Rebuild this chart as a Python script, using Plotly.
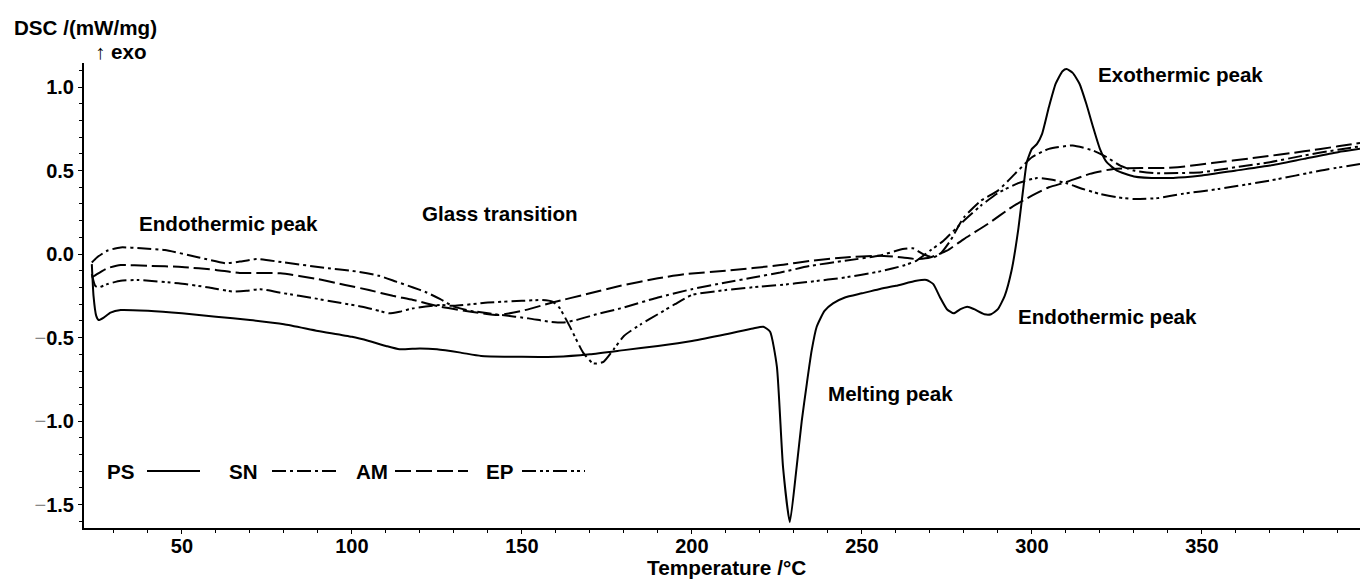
import plotly.graph_objects as go

# ---------------- data ----------------
ps_T = [23.5, 24.0, 24.8, 25.5, 27, 29, 32, 40, 50, 60, 70, 80, 90, 100, 105, 110, 114, 120, 125, 132, 138,
        150, 160, 170, 180, 190, 200, 210, 218, 221, 223, 225, 226.8, 228.8, 230.8, 232.3, 233.8, 235.2,
        236.7, 239, 241.5, 245, 250, 255, 260, 266, 269, 271, 273, 275, 277, 279, 281, 283, 286, 288, 290,
        292, 294, 296, 297.5, 298.5, 300, 301.5, 303, 305, 307, 309, 310.2, 312, 314, 316, 318, 320, 322,
        325, 330, 338, 345, 350, 360, 370, 380, 390, 396.5]
ps_V = [-0.06, -0.25, -0.37, -0.395, -0.38, -0.35, -0.335, -0.34, -0.355, -0.375, -0.395, -0.42, -0.46,
        -0.495, -0.52, -0.55, -0.57, -0.565, -0.57, -0.59, -0.61, -0.615, -0.615, -0.60, -0.575, -0.55,
        -0.52, -0.48, -0.445, -0.435, -0.465, -0.675, -1.275, -1.605, -1.275, -1.0, -0.775, -0.58, -0.435,
        -0.34, -0.295, -0.26, -0.235, -0.21, -0.19, -0.16, -0.155, -0.18, -0.26, -0.33, -0.355, -0.33,
        -0.315, -0.33, -0.36, -0.36, -0.33, -0.25, -0.1, 0.15, 0.4, 0.55, 0.63, 0.66, 0.72, 0.88, 1.02,
        1.095, 1.108, 1.085, 1.02, 0.9, 0.76, 0.63, 0.55, 0.5, 0.465, 0.455, 0.46, 0.47, 0.5, 0.53, 0.57,
        0.61, 0.63]

sn_T = [23.5, 25, 28, 32, 38, 45, 55, 63, 67, 72, 80, 93, 100, 108, 113, 118, 122, 126, 130, 135, 144,
        152, 158, 162, 166, 172, 179, 190, 200, 210, 218, 226, 235, 245, 255, 262, 265, 268, 271, 273, 276,
        280, 285, 290, 295, 300, 305, 312, 318, 322, 326, 330, 336, 343, 350, 360, 370, 380, 390, 396.5]
sn_V = [-0.05, -0.02, 0.02, 0.04, 0.035, 0.024, -0.02, -0.055, -0.045, -0.03, -0.05, -0.085, -0.1, -0.13,
        -0.165, -0.2, -0.23, -0.27, -0.315, -0.34, -0.365, -0.385, -0.405, -0.41, -0.395, -0.36, -0.325,
        -0.26, -0.21, -0.17, -0.14, -0.11, -0.07, -0.04, -0.01, 0.03, 0.035, 0.0, -0.02, 0.0, 0.08, 0.22,
        0.32, 0.38, 0.48, 0.58, 0.63, 0.65, 0.62, 0.58, 0.53, 0.50, 0.485, 0.485, 0.49, 0.52, 0.55, 0.59,
        0.625, 0.645]

am_T = [23.5, 25, 28, 32, 40, 50, 60, 67, 79, 90, 98, 105, 112, 118, 126, 135, 143, 150, 159, 170, 179,
        190, 198, 210, 226, 235, 245, 255, 262, 266, 270, 275, 280, 287, 294, 300, 305, 310, 317, 324, 332,
        339, 345, 353, 365, 380, 390, 396.5]
am_V = [-0.14, -0.12, -0.085, -0.066, -0.07, -0.077, -0.095, -0.113, -0.115, -0.15, -0.185, -0.215, -0.25,
        -0.275, -0.315, -0.345, -0.365, -0.34, -0.29, -0.235, -0.19, -0.145, -0.12, -0.1, -0.066, -0.04,
        -0.02, -0.01, -0.02, -0.03, -0.02, 0.02, 0.09, 0.18, 0.28, 0.35, 0.40, 0.43, 0.48, 0.51, 0.515,
        0.515, 0.525, 0.545, 0.575, 0.615, 0.645, 0.665]

ep_T = [23.5, 24.5, 25.5, 28, 32, 37, 49, 58, 65, 69, 73, 80, 89, 96, 103, 108, 111, 114, 118, 126, 130,
        140, 150, 156, 159, 161, 164, 168, 171, 174, 177, 180, 185, 190, 195, 200, 210, 220, 226, 235, 245,
        255, 262, 266, 270, 274, 280, 285, 290, 296, 301.5, 306, 310, 315, 320, 325, 330, 337, 344, 355,
        370, 385, 396.5]
ep_V = [-0.12, -0.19, -0.2, -0.18, -0.16, -0.155, -0.175, -0.2, -0.225, -0.22, -0.21, -0.235, -0.265,
        -0.29, -0.315, -0.34, -0.355, -0.345, -0.325, -0.305, -0.31, -0.29, -0.28, -0.275, -0.285, -0.32,
        -0.43, -0.59, -0.655, -0.645, -0.57, -0.49, -0.42, -0.36, -0.3, -0.245, -0.215, -0.195, -0.185,
        -0.165, -0.14, -0.105, -0.07, -0.04, 0.02, 0.08, 0.2, 0.29, 0.365, 0.425, 0.455, 0.445, 0.425,
        0.39, 0.36, 0.34, 0.33, 0.335, 0.36, 0.39, 0.44, 0.5, 0.54]

series_names = ["PS", "SN", "AM", "EP"]
x_tick_vals = [50, 100, 150, 200, 250, 300, 350]
y_tick_vals = [-1.5, -1.0, -0.5, 0.0, 0.5, 1.0]
y_tick_text = ["<span style='color:#888;font-weight:normal'>−</span>1.5",
               "<span style='color:#888;font-weight:normal'>−</span>1.0",
               "<span style='color:#888;font-weight:normal'>−</span>0.5",
               "0.0", "0.5", "1.0"]

# ---------------- styles ----------------
FONT = "Liberation Sans, Arial, sans-serif"
DASH_SN = "14px,4px,3px,4px"
DASH_AM = "16px,5px"
DASH_EP = "14px,4px,3px,3px,3px,4px"
styles = {"PS": "solid", "SN": DASH_SN, "AM": DASH_AM, "EP": DASH_EP}
data = {"PS": (ps_T, ps_V), "SN": (sn_T, sn_V), "AM": (am_T, am_V), "EP": (ep_T, ep_V)}

fig = go.Figure()
for name in series_names:
    T, V = data[name]
    fig.add_trace(go.Scatter(x=T, y=V, mode="lines", name=name, line_shape="spline",
                             line=dict(color="black", width=2, dash=styles[name], smoothing=0.5),
                             showlegend=False))

W, H = 1360, 579
ml, mr, mt, mb = 84, 0, 63, 51
pw, ph = W - ml - mr, H - mt - mb


def px_to_paper(px, py):
    return (px - ml) / pw, (H - mb - py) / ph


annotations = []


def add_text(text, px, py, xanchor="center", size=20.6):
    xp, yp = px_to_paper(px, py)
    annotations.append(dict(text=text, x=xp, y=yp, xref="paper", yref="paper", xanchor=xanchor,
                            yanchor="middle", showarrow=False,
                            font=dict(family=FONT, size=size, color="black")))


add_text("<b>DSC /(mW/mg)</b>", 12, 27, "left")
add_text("<b>↑ exo</b>", 93, 52, "left")
add_text("<b>Endothermic peak</b>", 228, 224)
add_text("<b>Glass transition</b>", 500, 213)
add_text("<b>Melting peak</b>", 890, 393)
add_text("<b>Exothermic peak</b>", 1180, 74)
add_text("<b>Endothermic peak</b>", 1107, 316)
add_text("<b>Temperature /°C</b>", 726, 567, size=20.8)

# legend drawn as text + line samples
legend_items = [("PS", 120, 147, 200), ("SN", 243, 272, 340), ("AM", 372, 395, 468), ("EP", 500, 522, 585)]
shapes = []
leg_y = 471
for name, tx, x0, x1 in legend_items:
    add_text("<b>%s</b>" % name, tx, leg_y)
    a0, b0 = px_to_paper(x0, leg_y)
    a1, _ = px_to_paper(x1, leg_y)
    shapes.append(dict(type="line", xref="paper", yref="paper", x0=a0, x1=a1, y0=b0, y1=b0,
                       line=dict(color="black", width=2, dash=styles[name])))

fig.update_layout(
    width=W, height=H,
    margin=dict(l=ml, r=mr, t=mt, b=mb),
    paper_bgcolor="white", plot_bgcolor="white",
    font=dict(family=FONT, size=20, color="black"),
    annotations=annotations, shapes=shapes,
    xaxis=dict(range=[21.2, 396.5], showgrid=False, zeroline=False, showline=True, linecolor="black",
               linewidth=2, ticks="outside", ticklen=4, tickwidth=1, tickcolor="black",
               tickvals=x_tick_vals, ticktext=["<b>%d</b>" % v for v in x_tick_vals],
               tickfont=dict(family=FONT, size=20), ticklabelstandoff=-5,
               minor=dict(dtick=10, tick0=0, ticks="outside", ticklen=3, tickcolor="black", showgrid=False)),
    yaxis=dict(range=[-1.64, 1.144], showgrid=False, zeroline=False, showline=True, linecolor="black",
               linewidth=2, ticks="outside", ticklen=4, tickwidth=1, tickcolor="black",
               tickvals=y_tick_vals, ticktext=["<b>%s</b>" % t for t in y_tick_text],
               tickfont=dict(family=FONT, size=20),
               minor=dict(dtick=0.1, tick0=0, ticks="outside", ticklen=3, tickcolor="black", showgrid=False)),
)

fig.write_html("out.html")
